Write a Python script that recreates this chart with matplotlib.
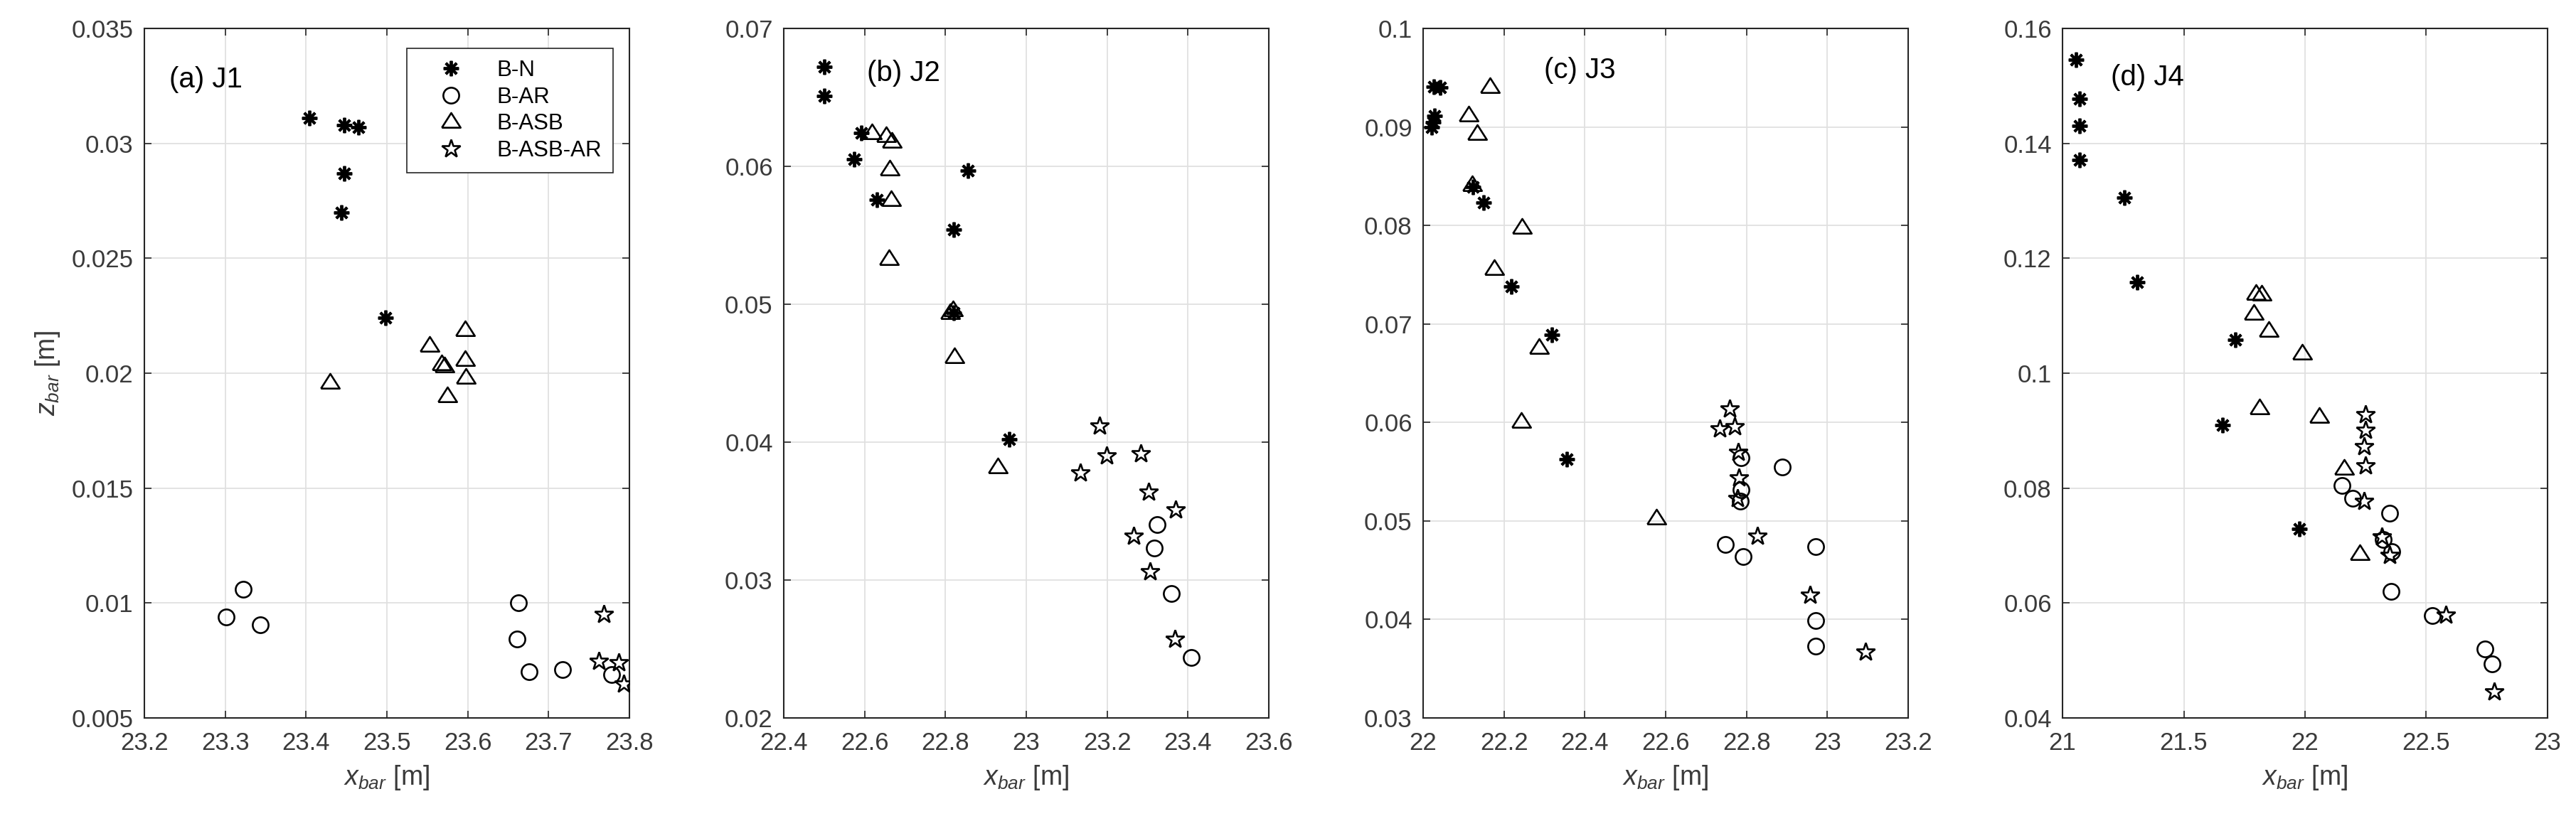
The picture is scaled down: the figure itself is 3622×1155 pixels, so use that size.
import matplotlib
matplotlib.use("Agg")
import matplotlib.pyplot as plt

plt.rcParams['font.family'] = ['Liberation Sans', 'DejaVu Sans']
plt.rcParams['mathtext.fontset'] = 'custom'
plt.rcParams['mathtext.rm'] = 'Liberation Sans'
plt.rcParams['mathtext.it'] = 'Liberation Sans:italic'

series_names = ['B-N', 'B-AR', 'B-ASB', 'B-ASB-AR']
panel_titles = ['(a) J1', '(b) J2', '(c) J3', '(d) J4']

# ---- Panel (a) J1 ----
j1_bn_x = [23.404, 23.447, 23.465, 23.447, 23.444, 23.498]
j1_bn_z = [0.0311, 0.0308, 0.0307, 0.0287, 0.0270, 0.0224]
j1_ar_x = [23.301, 23.322, 23.343, 23.663, 23.661, 23.676, 23.717, 23.778]
j1_ar_z = [0.0094, 0.0106, 0.00905, 0.0100, 0.00844, 0.0070, 0.0071, 0.0069]
j1_asb_x = [23.430, 23.553, 23.568, 23.571, 23.575, 23.597, 23.597, 23.598]
j1_asb_z = [0.0196, 0.0212, 0.0204, 0.0203, 0.0190, 0.0219, 0.0206, 0.0198]
j1_asbar_x = [23.768, 23.762, 23.787, 23.793]
j1_asbar_z = [0.00951, 0.00746, 0.00742, 0.00648]

# ---- Panel (b) J2 ----
j2_bn_x = [22.501, 22.501, 22.591, 22.575, 22.631, 22.855, 22.821, 22.821, 22.957]
j2_bn_z = [0.0672, 0.0651, 0.0624, 0.0605, 0.0576, 0.0597, 0.0554, 0.0494, 0.0402]
j2_ar_x = [23.323, 23.316, 23.359, 23.408]
j2_ar_z = [0.0340, 0.0323, 0.0290, 0.0244]
j2_asb_x = [22.619, 22.653, 22.667, 22.663, 22.666, 22.661, 22.811, 22.818, 22.823, 22.930]
j2_asb_z = [0.0624, 0.0622, 0.0618, 0.0598, 0.0576, 0.0533, 0.0494, 0.0496, 0.0462, 0.0382]
j2_asbar_x = [23.181, 23.199, 23.133, 23.284, 23.303, 23.370, 23.266, 23.307, 23.367]
j2_asbar_z = [0.0412, 0.0390, 0.0378, 0.0392, 0.0364, 0.0351, 0.0332, 0.0306, 0.0257]

# ---- Panel (c) J3 ----
j3_bn_x = [22.027, 22.043, 22.029, 22.021, 22.025, 22.123, 22.149, 22.219, 22.318, 22.355]
j3_bn_z = [0.0941, 0.0940, 0.0911, 0.0900, 0.0905, 0.0839, 0.0823, 0.0738, 0.0689, 0.0563]
j3_ar_x = [22.786, 22.786, 22.784, 22.889, 22.747, 22.791, 22.971, 22.971, 22.971]
j3_ar_z = [0.0564, 0.0532, 0.0520, 0.0555, 0.0476, 0.0464, 0.0474, 0.0399, 0.0373]
j3_asb_x = [22.165, 22.112, 22.133, 22.121, 22.245, 22.176, 22.286, 22.242, 22.578]
j3_asb_z = [0.0941, 0.0912, 0.0893, 0.0841, 0.0798, 0.0756, 0.0676, 0.0601, 0.0503]
j3_asbar_x = [22.759, 22.734, 22.770, 22.779, 22.782, 22.777, 22.827, 22.957, 23.095]
j3_asbar_z = [0.0614, 0.0594, 0.0596, 0.0570, 0.0544, 0.0523, 0.0485, 0.0425, 0.0367]

# ---- Panel (d) J4 ----
j4_bn_x = [21.055, 21.069, 21.069, 21.069, 21.254, 21.309, 21.712, 21.660, 21.977]
j4_bn_z = [0.1545, 0.1477, 0.1431, 0.1371, 0.1305, 0.1158, 0.1058, 0.0910, 0.0729]
j4_ar_x = [22.153, 22.196, 22.348, 22.322, 22.357, 22.355, 22.525, 22.741, 22.772]
j4_ar_z = [0.0805, 0.0782, 0.0756, 0.0711, 0.0690, 0.0620, 0.0578, 0.0520, 0.0494]
j4_asb_x = [21.799, 21.821, 21.790, 21.850, 21.989, 21.812, 22.058, 22.162, 22.227]
j4_asb_z = [0.1138, 0.1137, 0.1104, 0.1074, 0.1035, 0.0939, 0.0924, 0.0834, 0.0686]
j4_asbar_x = [22.248, 22.248, 22.243, 22.248, 22.243, 22.317, 22.348, 22.582, 22.780]
j4_asbar_z = [0.0928, 0.0901, 0.0873, 0.0839, 0.0777, 0.0716, 0.0683, 0.0579, 0.0446]

# ---- Axis ticks ----
xticks_j1 = [23.2, 23.3, 23.4, 23.5, 23.6, 23.7, 23.8]
xlabels_j1 = ['23.2', '23.3', '23.4', '23.5', '23.6', '23.7', '23.8']
yticks_j1 = [0.005, 0.01, 0.015, 0.02, 0.025, 0.03, 0.035]
ylabels_j1 = ['0.005', '0.01', '0.015', '0.02', '0.025', '0.03', '0.035']

xticks_j2 = [22.4, 22.6, 22.8, 23.0, 23.2, 23.4, 23.6]
xlabels_j2 = ['22.4', '22.6', '22.8', '23', '23.2', '23.4', '23.6']
yticks_j2 = [0.02, 0.03, 0.04, 0.05, 0.06, 0.07]
ylabels_j2 = ['0.02', '0.03', '0.04', '0.05', '0.06', '0.07']

xticks_j3 = [22.0, 22.2, 22.4, 22.6, 22.8, 23.0, 23.2]
xlabels_j3 = ['22', '22.2', '22.4', '22.6', '22.8', '23', '23.2']
yticks_j3 = [0.03, 0.04, 0.05, 0.06, 0.07, 0.08, 0.09, 0.1]
ylabels_j3 = ['0.03', '0.04', '0.05', '0.06', '0.07', '0.08', '0.09', '0.1']

xticks_j4 = [21.0, 21.5, 22.0, 22.5, 23.0]
xlabels_j4 = ['21', '21.5', '22', '22.5', '23']
yticks_j4 = [0.04, 0.06, 0.08, 0.1, 0.12, 0.14, 0.16]
ylabels_j4 = ['0.04', '0.06', '0.08', '0.1', '0.12', '0.14', '0.16']

panels = [
    dict(data=[(j1_bn_x, j1_bn_z), (j1_ar_x, j1_ar_z), (j1_asb_x, j1_asb_z), (j1_asbar_x, j1_asbar_z)],
         xt=xticks_j1, xl=xlabels_j1, yt=yticks_j1, yl=ylabels_j1, tpos=(0.051, 0.926)),
    dict(data=[(j2_bn_x, j2_bn_z), (j2_ar_x, j2_ar_z), (j2_asb_x, j2_asb_z), (j2_asbar_x, j2_asbar_z)],
         xt=xticks_j2, xl=xlabels_j2, yt=yticks_j2, yl=ylabels_j2, tpos=(0.171, 0.935)),
    dict(data=[(j3_bn_x, j3_bn_z), (j3_ar_x, j3_ar_z), (j3_asb_x, j3_asb_z), (j3_asbar_x, j3_asbar_z)],
         xt=xticks_j3, xl=xlabels_j3, yt=yticks_j3, yl=ylabels_j3, tpos=(0.249, 0.939)),
    dict(data=[(j4_bn_x, j4_bn_z), (j4_ar_x, j4_ar_z), (j4_asb_x, j4_asb_z), (j4_asbar_x, j4_asbar_z)],
         xt=xticks_j4, xl=xlabels_j4, yt=yticks_j4, yl=ylabels_j4, tpos=(0.099, 0.929)),
]

tri = [(-1, -0.62), (1, -0.62), (0, 0.95), (-1, -0.62)]
styles = [
    dict(marker=(8, 2, 0), ms=15.5, mew=2.8, mfc='k'),
    dict(marker='o', ms=16, mew=1.9, mfc='none'),
    dict(marker=tri, ms=19, mew=1.9, mfc='none'),
    dict(marker='*', ms=19, mew=1.9, mfc='none'),
]

W, H = 3622, 1155
fig = plt.figure(figsize=(W / 100, H / 100), dpi=100)
lefts = [203, 1102, 2001, 2900]
axw, top, bot = 682, 40, 1010
dark = '#262626'
ticklab = '#3a3a3a'

for i, p in enumerate(panels):
    ax = fig.add_axes([lefts[i] / W, 1 - bot / H, axw / W, (bot - top) / H])
    for j, (xs, zs) in enumerate(p['data']):
        st = styles[j]
        ax.plot(xs, zs, linestyle='none', marker=st['marker'], markersize=st['ms'],
                markeredgewidth=st['mew'], markerfacecolor=st['mfc'],
                markeredgecolor='k', color='k', label=series_names[j], zorder=3)
    ax.set_xlim(p['xt'][0], p['xt'][-1])
    ax.set_ylim(p['yt'][0], p['yt'][-1])
    ax.set_xticks(p['xt'])
    ax.set_xticklabels(p['xl'])
    ax.set_yticks(p['yt'])
    ax.set_yticklabels(p['yl'])
    ax.tick_params(direction='in', top=True, right=True, length=7, width=1.2,
                   color=dark, labelcolor=ticklab, labelsize=25, pad=11)
    ax.tick_params(axis='x', pad=14)
    for s in ax.spines.values():
        s.set_color(dark)
        s.set_linewidth(1.5)
    ax.grid(True, color='#e0e0e0', linewidth=1.3, linestyle='-')
    ax.set_axisbelow(True)
    ax.set_xlabel(r'$x_{bar}$ [m]', fontsize=27, color=ticklab, labelpad=8)
    if i == 0:
        ax.set_ylabel(r'$z_{bar}$ [m]', fontsize=27, color=ticklab, labelpad=10)
        leg = ax.legend(loc='upper left', bbox_to_anchor=(0.541, 0.971), fontsize=22.5,
                        frameon=True, fancybox=False, edgecolor=dark, framealpha=1,
                        borderaxespad=0, borderpad=0.5, handlelength=3.0,
                        handletextpad=0.55, labelspacing=0.25)
        leg.get_frame().set_linewidth(1.2)
        for t in leg.get_texts():
            t.set_color('k')
    ax.text(p['tpos'][0], p['tpos'][1], panel_titles[i], transform=ax.transAxes,
            fontsize=29, color='k', ha='left', va='center')

fig.savefig('out.png', dpi=100, facecolor='white')
